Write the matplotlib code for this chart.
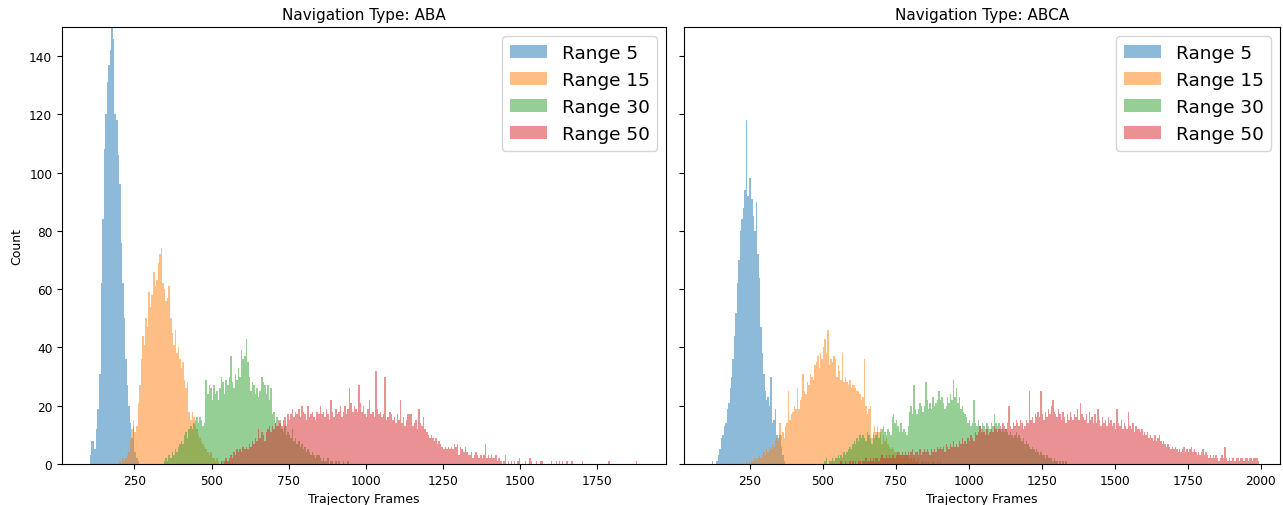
import numpy as np
import matplotlib
matplotlib.use("Agg")
import matplotlib.pyplot as plt

# ---------------- data (counts per 5-frame bin) ----------------
bin_width = 5
labels = ["Range 5", "Range 15", "Range 30", "Range 50"]
colors = ["#1f77b4", "#ff7f0e", "#2ca02c", "#d62728"]
panel_titles = ["Navigation Type: ABA", "Navigation Type: ABCA"]

# ---- ABA ----
aba_r5_start = 105
aba_r5 = [3, 8, 8, 5, 12, 19, 31, 62, 84, 108, 120, 131, 137, 142, 156, 146, 120, 118, 106, 96,
          76, 62, 50, 36, 27, 20, 14, 9, 13, 4, 2, 1]

aba_r15_start = 200
aba_r15 = [1, 0, 2, 1, 2, 3, 4, 8, 12, 15, 11, 13, 21, 27, 36, 44, 41, 50, 47, 59,
           54, 58, 66, 61, 63, 69, 72, 74, 62, 60, 56, 57, 61, 50, 45, 41, 46, 38, 40, 36,
           33, 35, 29, 26, 28, 18, 15, 18, 16, 13, 12, 10, 9, 8, 7, 6, 5, 4, 3, 4,
           2, 2, 1, 2, 1, 0, 1, 1, 0, 1, 0, 1, 0, 1]

aba_r30_start = 345
aba_r30 = [1, 2, 1, 3, 2, 4, 3, 5, 4, 6, 7,
           8, 7, 10, 11, 9, 12, 13, 12, 14, 15, 16, 14, 16, 15, 13, 14, 29, 24, 27, 26,
           22, 27, 24, 25, 22, 26, 30, 28, 24, 29, 27, 30, 37, 28, 26, 31, 29, 33, 30, 39,
           36, 37, 43, 35, 30, 25, 28, 27, 24, 26, 23, 25, 30, 28, 27, 24, 27, 22, 26, 17,
           18, 14, 16, 13, 15, 12, 11, 13, 10, 11, 10, 9, 12, 8, 9, 7, 8, 6, 7, 5,
           6, 4, 5, 4, 3, 4, 3, 2, 3, 3, 2, 1, 2, 1, 1, 2, 0, 1, 1, 0,
           1, 0, 1, 0, 0, 1, 0, 0, 1]

aba_r50_start = 530
aba_r50 = [1, 0, 1, 2, 1, 2, 3, 2, 4, 3, 5, 4, 5, 4,
           6, 5, 6, 5, 7, 6, 8, 7, 9, 8, 12, 9, 11, 10, 8, 11, 12, 13, 11, 13,
           12, 14, 13, 15, 14, 13, 15, 16, 13, 17, 15, 17, 19, 16, 18, 17, 19, 16, 20, 18,
           17, 15, 20, 16, 17, 18, 16, 15, 18, 17, 20, 17, 18, 16, 19, 17, 15, 22, 18, 16,
           19, 17, 18, 20, 16, 18, 20, 17, 19, 26, 21, 18, 20, 19, 18, 27, 21, 18, 20, 17,
           16, 19, 22, 17, 18, 16, 32, 19, 17, 18, 16, 17, 30, 15, 16, 18, 17, 15, 16, 14,
           17, 15, 22, 14, 16, 13, 15, 17, 17, 17, 13, 14, 15, 12, 19, 14, 13, 16, 12, 11,
           10, 9, 10, 9, 8, 9, 7, 8, 7, 6, 5, 6, 5, 6, 5, 6, 5, 7, 6, 7,
           3, 6, 5, 4, 6, 4, 3, 3, 4, 2, 3, 4, 3, 2, 3, 2, 3, 7, 2, 3,
           2, 3, 2, 2, 3, 1, 2, 1, 0, 1, 3, 0, 1, 0, 1, 0, 1, 0, 1, 2,
           0, 0, 0, 1, 0, 0, 2, 1, 0, 0, 1, 0, 0, 1, 1, 0, 0, 0, 0, 0,
           1, 0, 0, 1, 0, 1, 0, 1, 0, 0, 1, 0, 0, 1, 0, 0, 0, 0, 0, 0,
           1, 0, 0, 0, 0, 0, 0, 0, 0, 0, 0, 0, 0, 0, 0, 0, 0, 1, 0, 0,
           0, 0, 0, 0, 0, 0, 0, 0, 0, 0, 0, 0, 0, 0, 0, 1]

# ---- ABCA ----
abca_r5_start = 120
abca_r5 = [1, 0, 0, 1, 3, 5, 9, 10, 13, 14, 19, 21, 26, 30, 36, 44, 52, 62, 70, 80,
           84, 88, 94, 118, 92, 98, 98, 91, 85, 80, 90, 72, 64, 47, 38, 31, 25, 22, 23, 20,
           30, 14, 15, 19, 10, 9, 10, 6, 3, 1]

abca_r15_start = 235
abca_r15 = [1, 0, 1, 0, 1, 1, 2, 1, 2, 3, 2, 3, 4,
            3, 5, 4, 6, 5, 7, 6, 8, 9, 8, 14, 10, 11, 9, 13, 14, 25, 15, 17, 18,
            20, 19, 26, 19, 22, 23, 31, 25, 24, 28, 27, 31, 30, 29, 34, 35, 37, 33, 38, 36,
            40, 43, 38, 46, 34, 36, 35, 37, 36, 30, 34, 32, 29, 38, 28, 30, 28, 27, 29, 26,
            27, 27, 26, 25, 25, 24, 22, 23, 36, 20, 17, 19, 20, 9, 11, 13, 11, 13, 11, 12,
            7, 10, 8, 9, 7, 6, 5, 6, 5, 4, 4, 3, 4, 3, 2, 3, 2, 3, 2, 1,
            2, 1, 2, 1, 1, 2, 0, 1, 1, 0, 1, 0, 1, 0, 0, 1, 0, 0, 1, 0, 1]

abca_r30_start = 505
abca_r30 = [1, 2, 0, 1, 1, 2, 1, 2, 2, 3, 2, 3, 2, 4, 3, 4, 5, 6, 5,
            7, 8, 7, 9, 8, 10, 9, 10, 9, 8, 11, 10, 9, 7, 10, 9, 10, 11, 9, 11,
            12, 13, 11, 10, 12, 11, 10, 16, 17, 14, 15, 13, 11, 14, 11, 12, 11, 10, 13, 18,
            20, 17, 27, 19, 17, 19, 21, 20, 18, 20, 28, 22, 19, 21, 19, 23, 20, 21, 22, 25,
            22, 23, 21, 19, 20, 23, 21, 24, 22, 29, 23, 26, 21, 23, 19, 20, 18, 17, 16, 14,
            15, 13, 14, 22, 14, 13, 15, 13, 12, 14, 13, 12, 14, 13, 12, 14, 13, 17, 14, 13,
            14, 12, 11, 12, 11, 12, 11, 10, 11, 10, 9, 10, 11, 9, 10, 9, 8, 9, 7, 8,
            7, 6, 5, 6, 5, 4, 5, 4, 3, 4, 3, 3, 2, 3, 2, 2, 2, 1, 2, 1,
            1, 0, 1, 0, 1, 0, 1]

abca_r50_start = 560
abca_r50 = [1, 0, 0, 1, 0, 0, 1, 0,
            1, 0, 1, 0, 1, 1, 0, 1, 1, 2, 1, 1, 2, 1, 2, 1, 2, 2, 1, 2,
            3, 2, 2, 3, 2, 3, 2, 3, 3, 2, 3, 4, 3, 3, 4, 3, 4, 3, 4, 3,
            4, 5, 3, 4, 4, 3, 5, 3, 4, 5, 4, 5, 4, 3, 5, 4, 5, 4, 6, 5,
            6, 5, 6, 4, 7, 6, 5, 7, 6, 8, 6, 7, 6, 8, 7, 9, 7, 8, 7, 9,
            8, 10, 9, 8, 11, 10, 11, 13, 11, 12, 11, 10, 12, 10, 11, 12, 11, 13, 12, 11,
            12, 13, 12, 14, 13, 12, 14, 20, 13, 12, 14, 13, 15, 14, 13, 15, 14, 12, 13, 15,
            14, 25, 15, 16, 14, 17, 16, 18, 16, 25, 17, 15, 18, 16, 19, 17, 20, 22, 18, 17,
            16, 19, 17, 15, 18, 16, 14, 17, 15, 18, 16, 15, 17, 16, 19, 15, 21, 17, 16, 15,
            17, 14, 18, 15, 16, 14, 17, 14, 19, 15, 13, 16, 14, 15, 13, 16, 14, 15, 13, 14,
            12, 19, 14, 13, 15, 12, 14, 13, 12, 18, 13, 12, 14, 11, 13, 12, 12, 11, 12, 10,
            11, 10, 11, 9, 10, 9, 8, 10, 8, 9, 10, 8, 7, 8, 7, 6, 7, 6, 5, 6,
            5, 6, 5, 4, 5, 4, 5, 6, 4, 5, 4, 5, 6, 4, 5, 4, 3, 4, 3, 4,
            5, 3, 4, 3, 2, 3, 2, 3, 2, 3, 2, 1, 2, 3, 2, 6, 2, 1, 2, 1,
            2, 2, 1, 2, 2, 1, 2, 2, 1, 2, 2, 1, 2, 2, 1, 2, 2, 2, 1]

yticks = [0, 20, 40, 60, 80, 100, 120, 140]
aba_xticks = [250, 500, 750, 1000, 1250, 1500, 1750]
abca_xticks = [250, 500, 750, 1000, 1250, 1500, 1750, 2000]

panels = [
    [(aba_r5_start, aba_r5), (aba_r15_start, aba_r15), (aba_r30_start, aba_r30), (aba_r50_start, aba_r50)],
    [(abca_r5_start, abca_r5), (abca_r15_start, abca_r15), (abca_r30_start, abca_r30), (abca_r50_start, abca_r50)],
]

# ---------------- figure ----------------
W, H = 1283, 506
fig = plt.figure(figsize=(W / 100, H / 100), dpi=100)
ax1 = fig.add_axes([62 / W, 41 / H, (666 - 62) / W, 437 / H])
ax2 = fig.add_axes([684 / W, 41 / H, (1280 - 684) / W, 437 / H], sharey=ax1)
axes = [ax1, ax2]

for ax, series, title in zip(axes, panels, panel_titles):
    for (start, counts), lab, col in zip(series, labels, colors):
        counts = np.asarray(counts, dtype=float)
        edges = start + bin_width * np.arange(len(counts) + 1)
        centers = edges[:-1] + bin_width / 2
        ax.hist(centers, bins=edges, weights=counts, color=col, alpha=0.5, label=lab)
    ax.set_title(title, fontsize=11)
    ax.set_xlabel("Trajectory Frames", fontsize=9)
    ax.legend(loc="upper right", fontsize=13.3)
    ax.tick_params(labelsize=8.7)

ax1.set_xlim(15, 1973)
ax2.set_xlim(24, 2066)
ax1.set_xticks(aba_xticks)
ax2.set_xticks(abca_xticks)
ax1.set_ylim(0, 150)
ax1.set_yticks(yticks)
ax1.set_ylabel("Count", fontsize=9)
ax2.tick_params(labelleft=False)

fig.savefig("out.png", dpi=100)
